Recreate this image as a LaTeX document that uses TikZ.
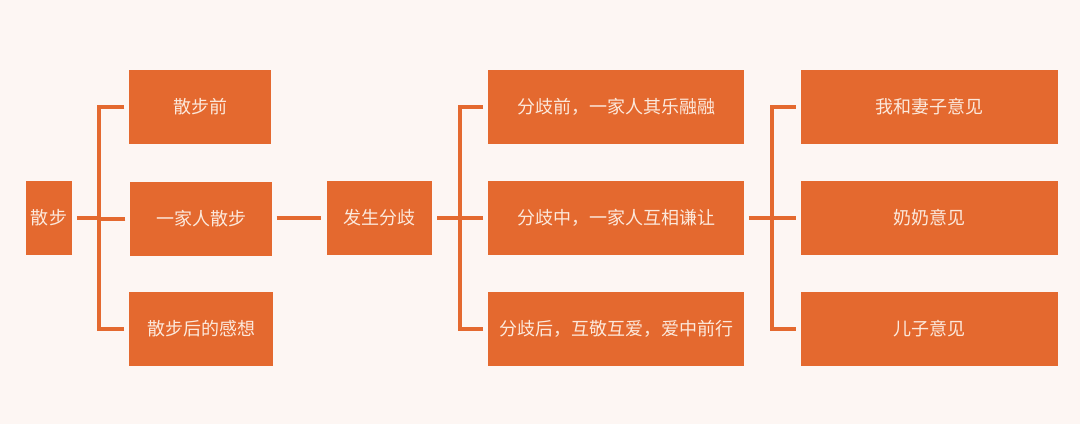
\documentclass[tikz,border=0pt]{standalone}
\usepackage{fontspec}
\usepackage{tikz}
\usetikzlibrary{positioning, calc}

\newfontfamily\cjk{Noto Sans CJK SC}

\definecolor{boxorange}{HTML}{E4692F}
\definecolor{boxtext}{HTML}{FCE9DC}
\definecolor{paper}{HTML}{FDF6F3}

\tikzset{
  box/.style={fill=boxorange, text=boxtext, inner sep=0pt,
    font=\cjk\fontsize{13.5}{15}\selectfont},
  link/.style={draw=boxorange, line width=3.6pt, shorten <=3.5pt},
  bar/.style={draw=boxorange, line width=3.6pt, line cap=rect},
}

\begin{document}
\begin{tikzpicture}[x=0.75pt,y=-0.75pt]

\useasboundingbox (0,0) rectangle (1080,424);
\fill[paper] (0,0) rectangle (1080,424);

% boxes
\node[box, minimum width=34.5pt, minimum height=55.5pt] (root) at (49,218) {散步};

\node[box, minimum width=106pt, minimum height=55pt] (walkA) at (200,107) {散步前};
\node[box, minimum width=106pt, minimum height=55pt] (walkB) at (201,219) {一家人散步};
\node[box, minimum width=108pt, minimum height=55pt] (walkC) at (201,329) {散步后的感想};

\node[box, minimum width=79pt, minimum height=55.5pt] (split) at (379.5,218) {发生分歧};

\node[box, minimum width=192pt, minimum height=55pt] (diffA) at (616,107) {分歧前，一家人其乐融融};
\node[box, minimum width=192pt, minimum height=55pt] (diffB) at (616,218) {分歧中，一家人互相谦让};
\node[box, minimum width=192pt, minimum height=55pt] (diffC) at (616,329) {分歧后，互敬互爱，爱中前行};

\node[box, minimum width=193pt, minimum height=55pt] (viewA) at (929.5,107) {我和妻子意见};
\node[box, minimum width=193pt, minimum height=55pt] (viewB) at (929.5,218) {奶奶意见};
\node[box, minimum width=193pt, minimum height=55pt] (viewC) at (929.5,329) {儿子意见};

% junctions
\coordinate (j1) at (99,218);
\coordinate (j2) at (460,218);
\coordinate (j3) at (772,218);

% first bracket
\draw[link] (root.east) -- (j1);
\draw[bar] (j1 |- walkA) -- (j1 |- walkC);
\draw[link] (walkA.west) -- (j1 |- walkA);
\draw[link] (walkB.west) -- (j1 |- walkB);
\draw[link] (walkC.west) -- (j1 |- walkC);

% middle link
\draw[link, shorten >=4.5pt] (walkB.east |- split) -- (split.west);

% second bracket
\draw[link] (split.east) -- (j2);
\draw[bar] (j2 |- diffA) -- (j2 |- diffC);
\draw[link] (diffA.west) -- (j2 |- diffA);
\draw[link] (diffB.west) -- (j2);
\draw[link] (diffC.west) -- (j2 |- diffC);

% third bracket
\draw[link] (diffB.east) -- (j3);
\draw[bar] (j3 |- viewA) -- (j3 |- viewC);
\draw[link] (viewA.west) -- (j3 |- viewA);
\draw[link] (viewB.west) -- (j3);
\draw[link] (viewC.west) -- (j3 |- viewC);

\end{tikzpicture}
\end{document}
